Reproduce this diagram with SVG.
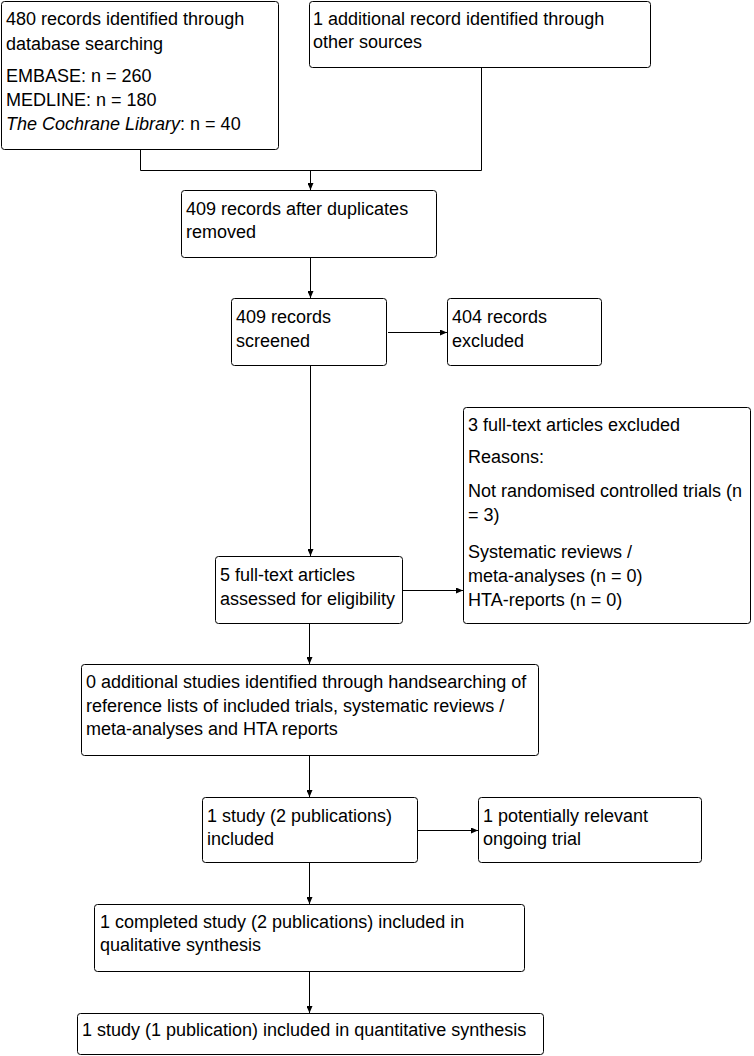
<svg xmlns="http://www.w3.org/2000/svg" width="754" height="1056" viewBox="0 0 754 1056">
<defs>
<marker id="ah" markerWidth="8" markerHeight="6" refX="7" refY="3" orient="auto" markerUnits="userSpaceOnUse">
<path d="M0,0 L7,3 L0,6 Z" fill="#000"/>
</marker>
<style>
.box{fill:#fff;stroke:#000;stroke-width:1}
.t{font-family:"Liberation Sans",Arial,sans-serif;font-size:18px;fill:#000}
.c{fill:none;stroke:#000;stroke-width:1}
</style>
</defs>
<rect width="754" height="1056" fill="#fff"/>
<g id="connectors">
<path class="c" d="M140.5,149 V170.5 H481.5 V67"/>
<path class="c" d="M310.5,170.5 V190" marker-end="url(#ah)"/>
<path class="c" d="M310.5,257 V298" marker-end="url(#ah)"/>
<path class="c" d="M388,332.5 H447" marker-end="url(#ah)"/>
<path class="c" d="M310.5,365 V556" marker-end="url(#ah)"/>
<path class="c" d="M402,590.5 H463" marker-end="url(#ah)"/>
<path class="c" d="M309.5,623 V664" marker-end="url(#ah)"/>
<path class="c" d="M309.5,755 V797" marker-end="url(#ah)"/>
<path class="c" d="M417,830.5 H478" marker-end="url(#ah)"/>
<path class="c" d="M309.5,862 V904" marker-end="url(#ah)"/>
<path class="c" d="M309.5,971 V1013" marker-end="url(#ah)"/>
</g>
<g id="n1"><rect class="box" x="1.5" y="1.5" width="277" height="148" rx="3"/>
<text class="t" x="6" y="25">480 records identified through</text>
<text class="t" x="6" y="50">database searching</text>
<text class="t" x="6" y="82">EMBASE: n = 260</text>
<text class="t" x="6" y="106">MEDLINE: n = 180</text>
<text class="t" x="6" y="130"><tspan font-style="italic">The Cochrane Library</tspan>: n = 40</text></g>
<g id="n2"><rect class="box" x="309.5" y="1.5" width="341" height="66" rx="3"/>
<text class="t" x="313" y="25">1 additional record identified through</text>
<text class="t" x="313" y="48">other sources</text></g>
<g id="n3"><rect class="box" x="181.5" y="190.5" width="255" height="67" rx="3"/>
<text class="t" x="186" y="215">409 records after duplicates</text>
<text class="t" x="186" y="238">removed</text></g>
<g id="n4"><rect class="box" x="231.5" y="298.5" width="155" height="67" rx="3"/>
<text class="t" x="236" y="323">409 records</text>
<text class="t" x="236" y="347">screened</text></g>
<g id="n5"><rect class="box" x="447.5" y="298.5" width="154" height="67" rx="3"/>
<text class="t" x="452" y="323">404 records</text>
<text class="t" x="452" y="347">excluded</text></g>
<g id="n6"><rect class="box" x="215.5" y="556.5" width="187" height="67" rx="3"/>
<text class="t" x="220" y="581">5 full-text articles</text>
<text class="t" x="220" y="605">assessed for eligibility</text></g>
<g id="n7"><rect class="box" x="463.5" y="407.5" width="287" height="216" rx="3"/>
<text class="t" x="468" y="431">3 full-text articles excluded</text>
<text class="t" x="468" y="463">Reasons:</text>
<text class="t" x="468" y="497">Not randomised controlled trials (n</text>
<text class="t" x="468" y="521">= 3)</text>
<text class="t" x="468" y="558">Systematic reviews /</text>
<text class="t" x="468" y="582">meta-analyses (n = 0)</text>
<text class="t" x="468" y="606">HTA-reports (n = 0)</text></g>
<g id="n8"><rect class="box" x="81.5" y="664.5" width="457" height="91" rx="3"/>
<text class="t" x="86" y="688">0 additional studies identified through handsearching of</text>
<text class="t" x="86" y="712">reference lists of included trials, systematic reviews /</text>
<text class="t" x="86" y="735">meta-analyses and HTA reports</text></g>
<g id="n9"><rect class="box" x="202.5" y="797.5" width="215" height="65" rx="3"/>
<text class="t" x="207" y="822">1 study (2 publications)</text>
<text class="t" x="207" y="845">included</text></g>
<g id="n10"><rect class="box" x="478.5" y="797.5" width="223" height="65" rx="3"/>
<text class="t" x="483" y="822">1 potentially relevant</text>
<text class="t" x="483" y="845">ongoing trial</text></g>
<g id="n11"><rect class="box" x="94.5" y="904.5" width="430" height="67" rx="3"/>
<text class="t" x="100" y="928">1 completed study (2 publications) included in</text>
<text class="t" x="100" y="951">qualitative synthesis</text></g>
<g id="n12"><rect class="box" x="77.5" y="1013.5" width="466" height="41" rx="3"/>
<text class="t" x="82" y="1036">1 study (1 publication) included in quantitative synthesis</text></g>
</svg>
